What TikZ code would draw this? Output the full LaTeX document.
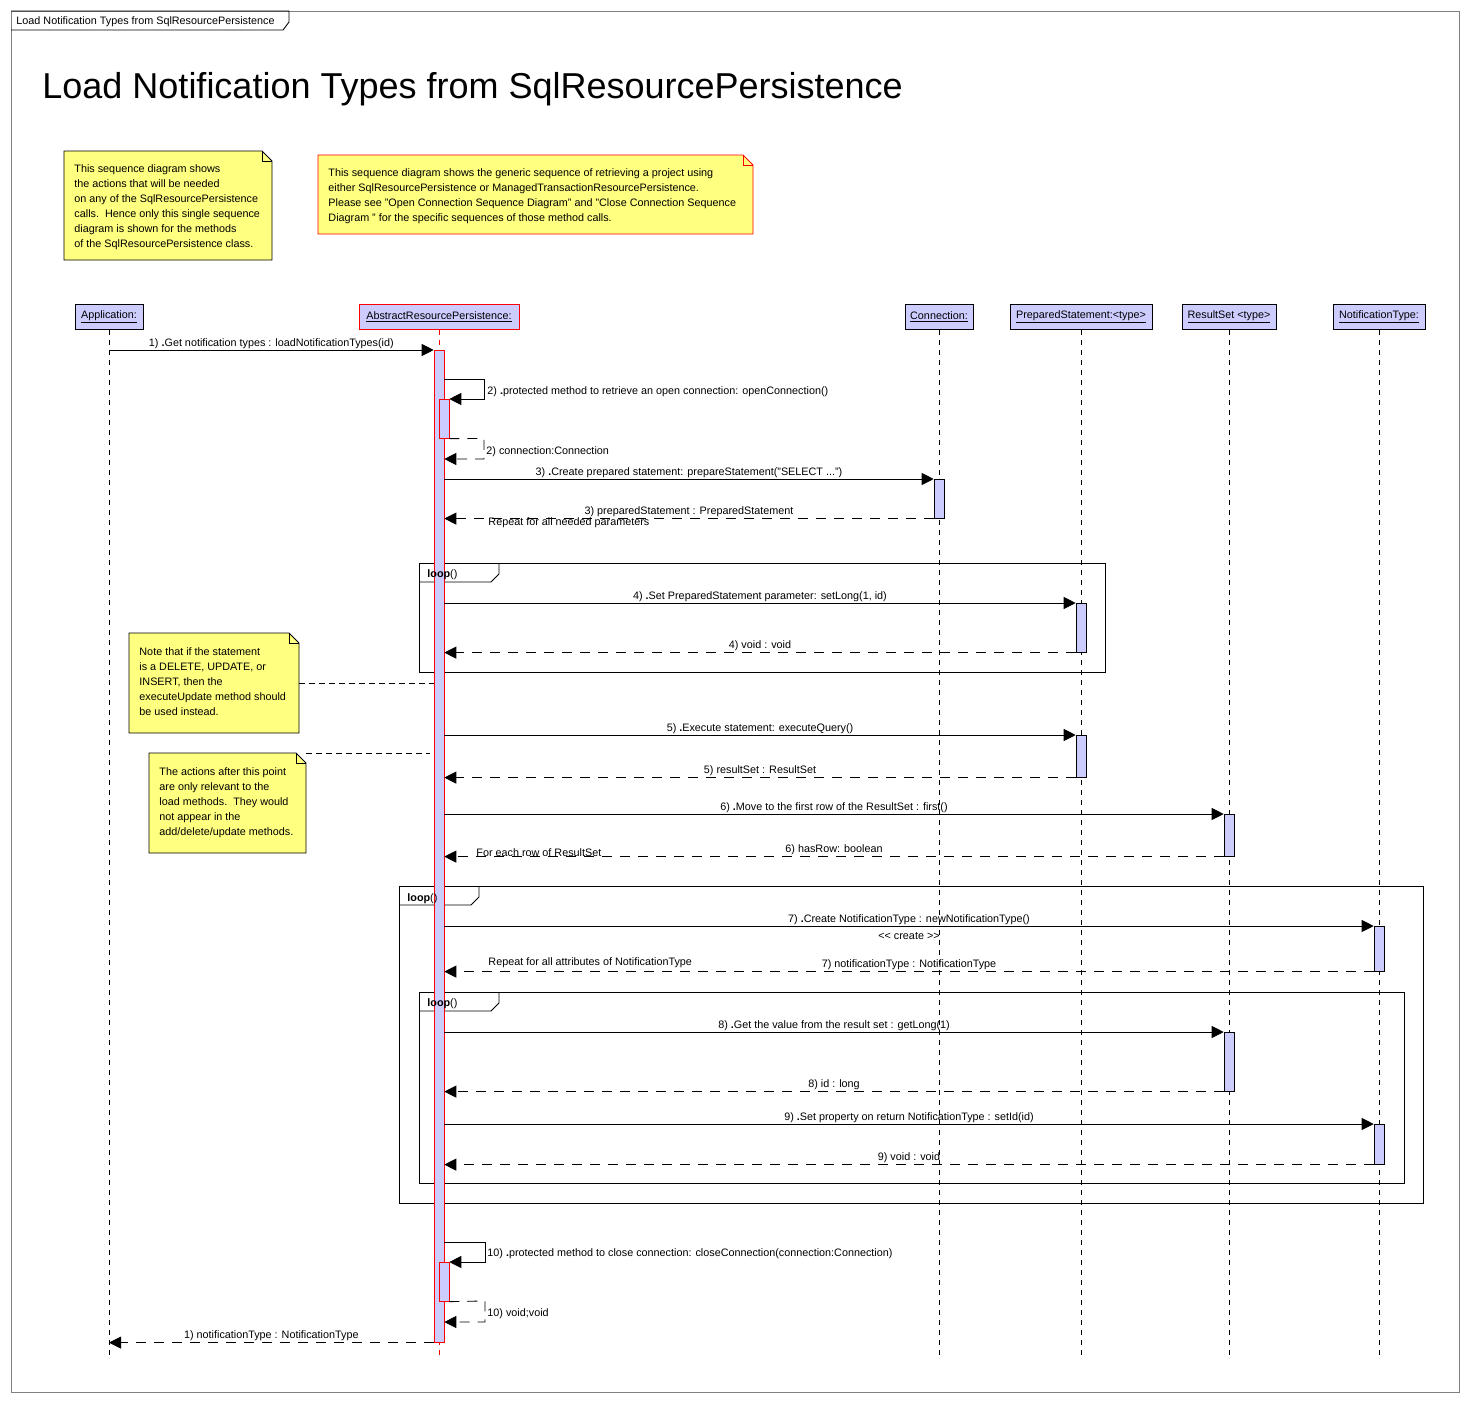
\documentclass[tikz,border=0pt]{standalone}
\usepackage{fontspec}
\setmainfont{Liberation Sans}
\usetikzlibrary{arrows.meta,calc}
\definecolor{lav}{RGB}{204,204,255}
\definecolor{noteY}{RGB}{255,255,128}
\definecolor{frameG}{RGB}{128,128,128}
\newcommand\mynote[6]{%
  \coordinate (#1) at (#2,#3);
  \draw[draw=#6, fill=noteY] (#2,#3) -- (#4-10,#3) -- (#4,#3+10) -- (#4,#5) -- (#2,#5) -- cycle;
  \draw[draw=#6] (#4-10,#3) -- (#4-10,#3+10) -- (#4,#3+10);}
\begin{document}
\begin{tikzpicture}[x=1pt,y=-1pt, line width=0.9pt,
  every node/.style={font=\fontsize{10.8}{15}\selectfont, inner sep=0pt},
  head/.style={draw, fill=lav, minimum height=25pt, anchor=north},
  life/.style={dash pattern=on 5pt off 5pt, line width=0.8pt},
  act/.style={draw, fill=lav, minimum width=10pt, line width=0.6pt, anchor=north},
  msg/.style={-{Triangle[length=12pt,width=12pt]}},
  ret/.style={msg, dash pattern=on 10pt off 8pt},
  lbl/.style={anchor=base, yshift=4pt},
  link/.style={dash pattern=on 6pt off 4pt, line width=0.8pt},
  notetext/.style={anchor=north west, align=left},
  looptab/.style={anchor=base west}]
\useasboundingbox (0,0) rectangle (1469,1402);
\fill[white] (0,0) rectangle (1469,1402);
% outer frame
\draw[frameG] (11,11) rectangle (1459,1392);
\draw (11,11) -- (289,11) -- (289,22) -- (283,30) -- (11,30);
\node[anchor=base west] (flbl) at (16,25) {Load Notification Types from SqlResourcePersistence};
\node[anchor=base west, font=\fontsize{36}{40}\selectfont] (title) at (42,99) {Load Notification Types from SqlResourcePersistence};
% notes
\mynote{n1}{64}{151}{272}{260}{black}
\node[notetext] (t1) at (74,164) {This sequence diagram shows\\the actions that will be needed\\on any of the SqlResourcePersistence\\calls.\ \ Hence only this single sequence\\diagram is shown for the methods\\of the SqlResourcePersistence class.};
\mynote{n2}{318}{155}{753}{234}{red}
\node[notetext] (t2) at (328,168) {This sequence diagram shows the generic sequence of retrieving a project using\\either SqlResourcePersistence or ManagedTransactionResourcePersistence.\\Please see "Open Connection Sequence Diagram" and "Close Connection Sequence\\Diagram " for the specific sequences of those method calls.};
\mynote{n3}{129}{633}{299}{733}{black}
\node[notetext] (t3) at (139,647) {Note that if the statement\\is a DELETE, UPDATE, or\\INSERT, then the\\executeUpdate method should\\be used instead.};
\mynote{n4}{149}{753}{306}{853}{black}
\node[notetext] (t4) at (159,767) {The actions after this point\\are only relevant to the\\load methods.\ \ They would\\not appear in the\\add/delete/update methods.};
% loop frames
\draw (419,563) rectangle (1105,672);
\draw (419,582) -- (491,582) -- (499,574) -- (499,563);
\draw (399,886) rectangle (1423,1203);
\draw (399,905) -- (471,905) -- (479,897) -- (479,886);
\draw (419,992) rectangle (1404,1183);
\draw (419,1011) -- (491,1011) -- (499,1003) -- (499,992);
% heads
\node[head, minimum width=68pt] (app) at (109,304) {\underline{Application:}};
\node[head, draw=red, minimum width=160pt] (arp) at (439,304) {\underline{AbstractResourcePersistence:}};
\node[head, minimum width=68pt] (con) at (939,304) {\underline{Connection:}};
\node[head, minimum width=142pt] (ps) at (1081,304) {\underline{PreparedStatement:<type>}};
\node[head, minimum width=94pt] (rs) at (1229,304) {\underline{ResultSet <type>}};
\node[head, minimum width=92pt] (nt) at (1379,304) {\underline{NotificationType:}};
\coordinate (bot) at (0,1358);
\foreach \n in {app,con,ps,rs,nt} \draw[life] (\n) -- (\n |- bot);
\draw[life, red] (arp) -- (arp |- bot);
% activations
\node[act, draw=red, minimum height=992pt] (a0) at (439,350) {};
\node[act, draw=red, minimum height=39pt] (a2) at (444,399) {};
\node[act, draw=red, minimum height=39pt] (a10) at (444,1262) {};
\node[act, minimum height=39pt] (a3) at (939,479) {};
\node[act, minimum height=49pt] (a4) at (1081,603) {};
\node[act, minimum height=42pt] (a5) at (1081,735) {};
\node[act, minimum height=42pt] (a6) at (1229,814) {};
\node[act, minimum height=45pt] (a7) at (1379,926) {};
\node[act, minimum height=59pt] (a8) at (1229,1032) {};
\node[act, minimum height=40pt] (a9) at (1379,1124) {};
% loop labels (over the bar)
\node[looptab] (lp1) at (427,577) {\textbf{loop}()};
\node[looptab] (lp2) at (407,901) {\textbf{loop}()};
\node[looptab] (lp3) at (427,1006) {\textbf{loop}()};
% note links
\draw[link] (299,683) -- (a0.west |- 0,683);
\draw[link] (306,753) -- (430,753);
% messages
\draw[msg] (app |- a0.north) -- node[lbl] (l1) {1) \textbf{.}Get notification types : loadNotificationTypes(id)} (a0.north west);
\draw[msg] (a0.east |- 0,379) -- (484,379) -- (484,399) -- (a2.north east);
\node[anchor=base west] (l2) at (487,394) {2) \textbf{.}protected method to retrieve an open connection: openConnection()};
\draw[ret] (a2.south east) -- (484,438.5) -- (484,459) -- (a0.east |- 0,459);
\node[anchor=base west] (l2r) at (486,454) {2) connection:Connection};
\draw[msg] (a0.east |- a3.north) -- node[lbl] (l3) {3) \textbf{.}Create prepared statement: prepareStatement("SELECT ...")} (a3.north west);
\draw[ret] (a3.south west) -- node[lbl] (l3r) {3) preparedStatement : PreparedStatement} (a0.east |- a3.south);
\node[anchor=base west] (g1) at (488,525) {Repeat for all needed parameters};
\draw[msg] (a0.east |- a4.north) -- node[lbl] (l4) {4) \textbf{.}Set PreparedStatement parameter: setLong(1, id)} (a4.north west);
\draw[ret] (a4.south west) -- node[lbl] (l4r) {4) void : void} (a0.east |- a4.south);
\draw[msg] (a0.east |- a5.north) -- node[lbl] (l5) {5) \textbf{.}Execute statement: executeQuery()} (a5.north west);
\draw[ret] (a5.south west) -- node[lbl] (l5r) {5) resultSet : ResultSet} (a0.east |- a5.south);
\draw[msg] (a0.east |- a6.north) -- node[lbl] (l6) {6) \textbf{.}Move to the first row of the ResultSet : first()} (a6.north west);
\draw[ret] (a6.south west) -- node[lbl] (l6r) {6) hasRow: boolean} (a0.east |- a6.south);
\node[anchor=base west] (g2) at (476,856) {For each row of ResultSet};
\draw[msg] (a0.east |- a7.north) -- node[lbl] (l7) {7) \textbf{.}Create NotificationType : newNotificationType()} (a7.north west);
\node[anchor=base] (l7c) at (909,939) {{<}{<} create {>}{>}};
\draw[ret] (a7.south west) -- node[lbl] (l7r) {7) notificationType : NotificationType} (a0.east |- a7.south);
\node[anchor=base west] (g3) at (488,965) {Repeat for all attributes of NotificationType};
\draw[msg] (a0.east |- a8.north) -- node[lbl] (l8) {8) \textbf{.}Get the value from the result set : getLong(1)} (a8.north west);
\draw[ret] (a8.south west) -- node[lbl] (l8r) {8) id : long} (a0.east |- a8.south);
\draw[msg] (a0.east |- a9.north) -- node[lbl] (l9) {9) \textbf{.}Set property on return NotificationType : setId(id)} (a9.north west);
\draw[ret] (a9.south west) -- node[lbl] (l9r) {9) void : void} (a0.east |- a9.south);
\draw[msg] (a0.east |- 0,1242) -- (485,1242) -- (485,1262) -- (a10.north east);
\node[anchor=base west] (l10) at (487,1256) {10) \textbf{.}protected method to close connection: closeConnection(connection:Connection)};
\draw[ret] (a10.south east) -- (485,1301) -- (485,1322) -- (a0.east |- 0,1322);
\node[anchor=base west] (l10r) at (487,1316) {10) void;void};
\draw[ret] (a0.south west) -- node[lbl] (l1r) {1) notificationType : NotificationType} (app |- a0.south);
\end{tikzpicture}
\end{document}
